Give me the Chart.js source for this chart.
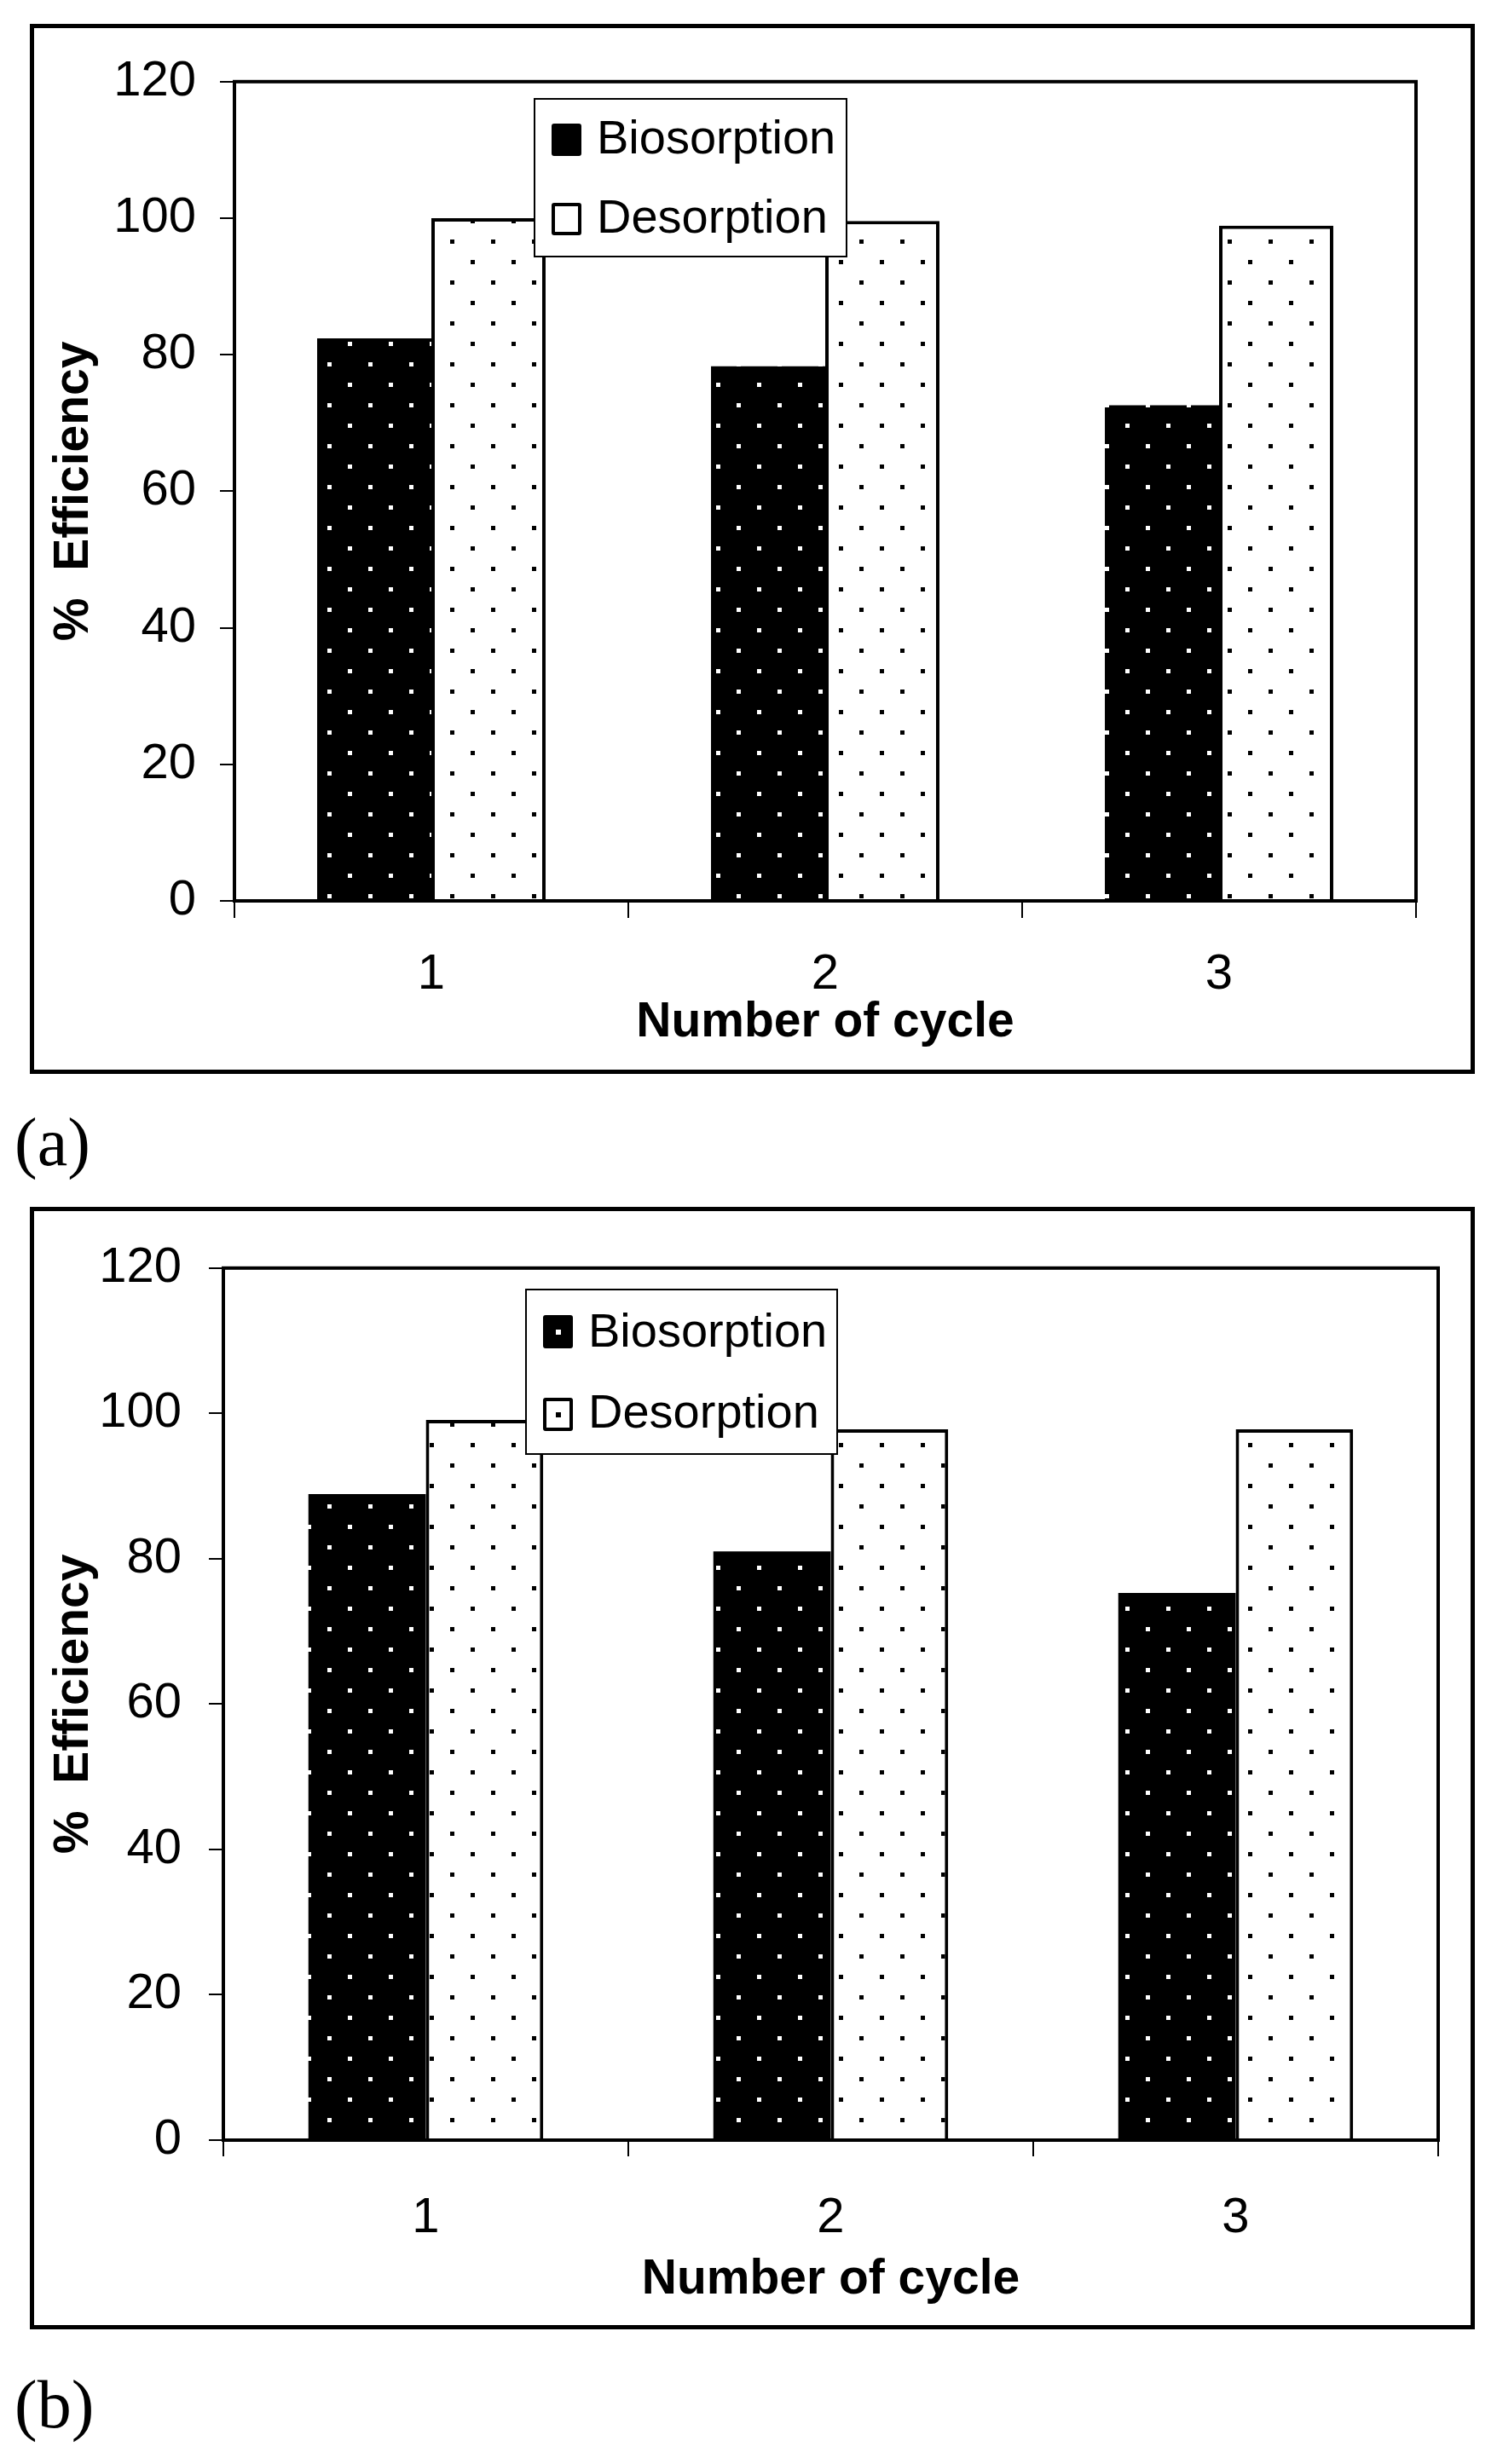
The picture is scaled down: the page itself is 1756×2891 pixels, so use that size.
<!DOCTYPE html>
<html>
<head>
<meta charset="utf-8">
<script src="https://cdn.jsdelivr.net/npm/chart.js@4.4.1/dist/chart.umd.min.js"></script>
<style>
  body { margin:0; background:#fff; width:1756px; height:2891px; position:relative; font-family:"Liberation Sans", Arial, sans-serif; }
  .panel { position:absolute; border:5px solid #000; box-sizing:border-box; background:#fff; }
  .panel canvas { position:absolute; left:0; top:0; }
  .legend { position:absolute; border:2px solid #000; box-sizing:border-box; background:#fff; }
  .legend span { position:absolute; font-size:56px; line-height:56px; white-space:nowrap; color:#000; }
  .sw { position:absolute; box-sizing:border-box; border:4px solid #000; border-radius:3px; }
  .sw.dark { background:#000; }
  .sw.light { background:#fff; }
  .dot { position:absolute; width:6px; height:6px; left:50%; top:50%; margin:-3px 0 0 -3px; }
  .tag { position:absolute; font-family:"Liberation Serif", "Times New Roman", serif; font-size:80px; line-height:80px; }
</style>
</head>
<body>

<div class="panel" style="left:35px;top:28px;width:1695px;height:1232px"><canvas id="chartA" width="1685" height="1222"></canvas></div>
<div class="legend" style="left:626px;top:115px;width:368px;height:187px">
  <div class="sw dark" style="left:19px;top:28px;width:35px;height:38px"></div>
  <span style="left:72px;top:16px">Biosorption</span>
  <div class="sw light" style="left:19px;top:121px;width:35px;height:38px"></div>
  <span style="left:72px;top:109px">Desorption</span>
</div>
<span class="tag" style="left:17px;top:1300px">(a)</span>

<div class="panel" style="left:35px;top:1416px;width:1695px;height:1317px"><canvas id="chartB" width="1685" height="1307"></canvas></div>
<div class="legend" style="left:616px;top:1512px;width:367px;height:195px">
  <div class="sw dark" style="left:19px;top:29px;width:35px;height:39px"><div class="dot" style="background:#fff"></div></div>
  <span style="left:72px;top:19px">Biosorption</span>
  <div class="sw light" style="left:19px;top:126px;width:35px;height:39px"><div class="dot" style="background:#000"></div></div>
  <span style="left:72px;top:114px">Desorption</span>
</div>
<span class="tag" style="left:17px;top:2781px">(b)</span>

<script>
'use strict';
let cycles=['1','2','3'];
let seriesNames=['Biosorption','Desorption'];
let biosorptionA=[82.4, 78.3, 72.6];
let desorptionA=[100, 99.6, 98.9];
let biosorptionB=[88.9, 81.0, 75.3];
let desorptionB=[99.1, 97.8, 97.8];
let yMin=0;
let yMax=120;
let yStep=20;

function dotPattern(bg, fg){
  let c=document.createElement('canvas');
  c.width=48;
  c.height=48;
  let g=c.getContext('2d');
  g.fillStyle=bg;
  g.fillRect(0,0,48,48);
  g.fillStyle=fg;
  g.fillRect(8,8,5,5);
  g.fillRect(32,32,5,5);
  return g.createPattern(c,'repeat');
}

// border round the plot area
let framePlugin={
  id:'frame',
  afterDraw(chart){
    let a=chart.chartArea;
    let ctx=chart.ctx;
    ctx.save();
    ctx.strokeStyle='#000';
    ctx.lineWidth=4;
    ctx.strokeRect(a.left, a.top, a.right-a.left, a.bottom-a.top);
    ctx.restore();
  }
};

function makeChart(id, bio, des, box){
  let ctx=document.getElementById(id).getContext('2d');
  return new Chart(ctx, {
    type:'bar',
    data:{
      labels:cycles,
      datasets:[{
        label:seriesNames[0],
        data:bio,
        backgroundColor:dotPattern('#000','#fff'),
        borderColor:'#000',
        borderWidth:0
      },
      {
        label:seriesNames[1],
        data:des,
        backgroundColor:dotPattern('#fff','#000'),
        borderColor:'#000',
        borderWidth:4
      }]
    },
    options:{
      responsive:false,
      animation:false,
      devicePixelRatio:1,
      categoryPercentage:0.58,
      barPercentage:1,
      layout:{ padding:{ left:0, top:box.top, right:box.right, bottom:0 } },
      plugins:{ legend:{ display:false }, tooltip:{ enabled:false } },
      scales:{
        x:{
          afterFit(s){ s.height=box.xh; },
          grid:{ display:true, drawOnChartArea:false, drawTicks:true, tickLength:box.xtick, lineWidth:2, color:'#000', offset:true },
          border:{ display:false },
          ticks:{ color:'#000', padding:box.xpad, font:{ family:'"Liberation Sans", Arial', size:58 } },
          title:{ display:true, text:'Number of cycle', color:'#000', padding:{ top:0, bottom:box.tpad }, font:{ family:'"Liberation Sans", Arial', size:57, weight:'bold' } }
        },
        y:{
          min:yMin,
          max:yMax,
          afterFit(s){ s.width=box.yw; },
          grid:{ display:true, drawOnChartArea:false, drawTicks:true, tickLength:17, lineWidth:2, color:'#000' },
          border:{ display:false },
          ticks:{ stepSize:yStep, color:'#000', padding:box.ypad, font:{ family:'"Liberation Sans", Arial', size:58 } },
          title:{ display:true, text:'%  Efficiency', color:'#000', padding:{ top:13, bottom:0 }, font:{ family:'"Liberation Sans", Arial', size:57, weight:'bold' } }
        }
      }
    },
    plugins:[framePlugin]
  });
}

makeChart('chartA', biosorptionA, desorptionA, { top:50, right:64, yw:235, xh:198, ypad:28, xpad:32, xtick:20, tpad:21 });
makeChart('chartB', biosorptionB, desorptionB, { top:56, right:38, yw:222, xh:217, ypad:32, xpad:38, xtick:19, tpad:19 });
</script>
</body>
</html>
